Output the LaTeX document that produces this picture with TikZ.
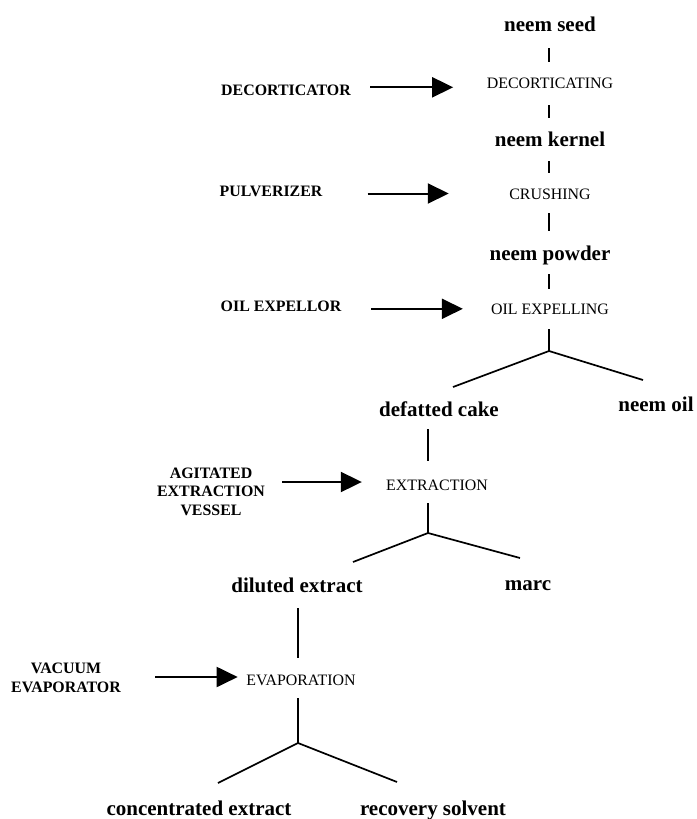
\documentclass[tikz,border=0pt]{standalone}
\usepackage{fontspec}
\setmainfont{Liberation Serif}
\usetikzlibrary{arrows.meta}

\tikzset{
  product/.style={font=\fontsize{21}{25}\selectfont\bfseries, inner sep=0pt, text height=15pt, text depth=4.5pt, anchor=base},
  stage/.style={font=\fontsize{15.9}{18.7}\selectfont, inner sep=0pt, text height=11pt, text depth=0pt, anchor=base},
  machine/.style={font=\fontsize{15.9}{18.7}\selectfont\bfseries, inner sep=0pt, align=center},
  link/.style={line width=1.7pt},
  feed/.style={line width=2pt, -{Triangle[length=21pt,width=20pt]}}
}

\begin{document}
\begin{tikzpicture}[x=1pt,y=-1pt]
        \useasboundingbox (0,0) rectangle (696,819);

        \node[product] (seed) at (550,31.7) {neem seed};
        \node[stage] (decort) at (550,88.3) {DECORTICATING};
        \node[product] (kernel) at (550,146.7) {neem kernel};
        \node[stage] (crush) at (550,199) {CRUSHING};
        \node[product] (powder) at (550,260) {neem powder};
        \node[stage] (oilexp) at (550,314.3) {OIL EXPELLING};
        \node[product] (cake) at (439,416.7) {defatted cake};
        \node[product] (oil) at (656,411) {neem oil};
        \node[stage] (extract) at (437,490) {EXTRACTION};
        \node[product] (diluted) at (297,592.7) {diluted extract};
        \node[product] (marc) at (528,590) {marc};
        \node[stage] (evap) at (301,685) {EVAPORATION};
        \node[product] (conc) at (199,815) {concentrated extract};
        \node[product] (recov) at (433,815) {recovery solvent};

        \node[machine,anchor=base] (decorticator) at (286,95) {DECORTICATOR};
        \node[machine,anchor=base] (pulverizer) at (271,196.7) {PULVERIZER};
        \node[machine,anchor=base] (expellor) at (281,311) {OIL EXPELLOR};
        \node[machine] (vessel) at (211,491.8) {AGITATED\\EXTRACTION\\VESSEL};
        \node[machine] (vacuum) at (66,677.9) {VACUUM\\EVAPORATOR};

        \coordinate (j1) at (549,351);
        \coordinate (cakeend) at (453,387);
        \coordinate (oilend) at (643,380);
        \coordinate (j2) at (428,533);
        \coordinate (dilutedend) at (353,562);
        \coordinate (marcend) at (520,558);
        \coordinate (j3) at (298,743);
        \coordinate (concend) at (218,783);
        \coordinate (recovend) at (397,782);

        \draw[link, shorten <=11.8pt, shorten >=15.3pt] (seed.south -| j1) to (decort.north -| j1);
        \draw[link, shorten <=16.7pt, shorten >=13.7pt] (decort.south -| j1) to (kernel.north -| j1);
        \draw[link, shorten <=9.8pt, shorten >=15pt] (kernel.south -| j1) to (crush.north -| j1);
        \draw[link, shorten <=14pt, shorten >=14pt] (crush.south -| j1) to (powder.north -| j1);
        \draw[link, shorten <=9.5pt, shorten >=14.3pt] (powder.south -| j1) to (oilexp.north -| j1);
        \draw[link, shorten <=14.7pt] (oilexp.south -| j1) to (j1);
        \draw[link] (cakeend) to (j1) to (oilend);

        \draw[link, shorten <=7.8pt, shorten >=18pt] (cake.south -| j2) to (extract.north -| j2);
        \draw[link, shorten <=13pt] (extract.south -| j2) to (j2);
        \draw[link] (dilutedend) to (j2) to (marcend);

        \draw[link, shorten <=10.8pt, shorten >=16pt] (diluted.south -| j3) to (evap.north -| j3);
        \draw[link, shorten <=13pt] (evap.south -| j3) to (j3);
        \draw[link] (concend) to (j3) to (recovend);

        \draw[feed, transform canvas={yshift=-4.5pt}, shorten <=19pt, shorten >=33.5pt] (decorticator.east |- decort.west) to (decort.west);
        \draw[feed, shorten <=45pt, shorten >=60.4pt] (pulverizer.east |- crush.west) to (crush.west);
        \draw[feed, shorten <=29.7pt, shorten >=28pt] (expellor.east |- oilexp.west) to (oilexp.west);
        \draw[feed, transform canvas={yshift=2.5pt}, shorten <=17pt, shorten >=24.2pt] (vessel.east |- extract.west) to (extract.west);
        \draw[feed, transform canvas={yshift=2.5pt}, shorten <=34.5pt, shorten >=8.5pt] (vacuum.east |- evap.west) to (evap.west);

    \end{tikzpicture}
\end{document}
